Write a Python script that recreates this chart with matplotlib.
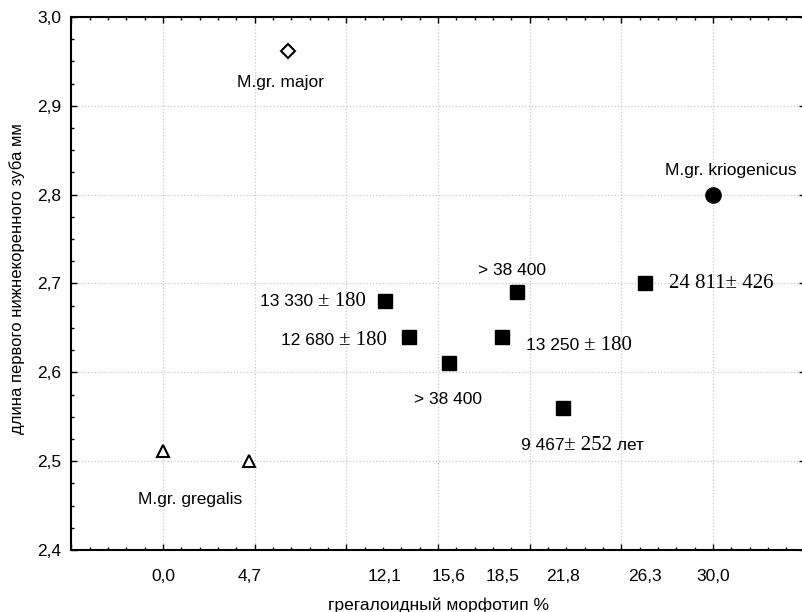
import matplotlib
matplotlib.use("Agg")
import matplotlib.pyplot as plt
from matplotlib.ticker import MultipleLocator, FuncFormatter

# DATA
major_x = [6.8]
major_y = [2.962]
gregalis_x = [0.0, 4.7]
gregalis_y = [2.511, 2.50]
krio_x = [30.0]
krio_y = [2.80]
dated_x = [12.1, 13.4, 15.6, 18.5, 19.3, 21.8, 26.3]
dated_y = [2.68, 2.64, 2.61, 2.64, 2.69, 2.56, 2.70]
xtick_vals = [0.0, 4.7, 12.1, 15.6, 18.5, 21.8, 26.3, 30.0]
xtick_labels = ["0,0", "4,7", "12,1", "15,6", "18,5", "21,8", "26,3", "30,0"]

SANS = "Liberation Sans"
SERIF = "Liberation Serif"
FS = 12.5      # sans text
FS_SERIF = 15  # serif "±" parts

# date labels: (point index, parts, offset in pixels of left edge)
date_labels = [
    (0, [("13 330 ", SANS), ("± 180", SERIF)], (-125, 0)),
    (1, [("12 680 ", SANS), ("± 180", SERIF)], (-128, -4)),
    (3, [("13 250 ", SANS), ("± 180", SERIF)], (24, -9)),
    (5, [("9 467", SANS), ("± 252", SERIF), (" лет", SANS)], (-42, -38)),
    (6, [("24 811± 426", SERIF)], (24, 0)),
]

fig = plt.figure(figsize=(8.03, 6.12), dpi=100)
W, H = 803, 612
ax = fig.add_axes([71.3 / W, 1 - 550 / H, (804.7 - 71.3) / W, (550 - 17) / H])
ax.set_xlim(-5, 35)
ax.set_ylim(2.4, 3.0)

ax.plot(major_x, major_y, linestyle="none", marker="D", markersize=7,
        markerfacecolor="white", markeredgecolor="black", markeredgewidth=1.5)
ax.plot(gregalis_x, gregalis_y, linestyle="none", marker="^", markersize=9,
        markerfacecolor="white", markeredgecolor="black", markeredgewidth=1.5)
ax.plot(krio_x, krio_y, linestyle="none", marker="o", markersize=11,
        color="black")
ax.plot(dated_x, dated_y, linestyle="none", marker="s", markersize=10,
        color="black")

# grid and ticks
ax.xaxis.set_major_locator(MultipleLocator(5))
ax.xaxis.set_minor_locator(MultipleLocator(1))
ax.yaxis.set_major_locator(MultipleLocator(0.1))
ax.yaxis.set_minor_locator(MultipleLocator(0.025))
ax.yaxis.set_major_formatter(FuncFormatter(lambda v, p: f"{v:.1f}".replace(".", ",")))
ax.grid(True, which="major", linestyle=":", color="#c8c8c8", linewidth=0.9)
ax.tick_params(axis="both", which="both", direction="in", top=True, right=True,
               width=1.0, color="black")
ax.tick_params(which="major", length=4)
ax.tick_params(which="minor", length=2.5)
ax.tick_params(axis="x", labelbottom=False)
ax.tick_params(axis="y", labelsize=FS, pad=7)
for lab in ax.get_yticklabels():
    lab.set_fontfamily(SANS)
for s in ax.spines.values():
    s.set_linewidth(1.5)

sec = ax.secondary_xaxis("bottom")
sec.set_xticks(xtick_vals, xtick_labels)
sec.tick_params(length=0, pad=14, labelsize=FS)
sec.spines["bottom"].set_visible(False)
for lab in sec.get_xticklabels():
    lab.set_fontfamily(SANS)

ax.set_xlabel("грегалоидный морфотип %", fontsize=FS, family=SANS, labelpad=31)
ax.set_ylabel("длина первого нижнекоренного зуба мм", fontsize=12, family=SANS,
              labelpad=9)
ax.yaxis.label.set_y(0.51)

# species labels
ax.annotate("M.gr. major", (major_x[0], major_y[0]), xytext=(-7, -32),
            textcoords="offset pixels", ha="center", va="center",
            fontsize=FS, family=SANS)
ax.annotate("M.gr. kriogenicus", (krio_x[0], krio_y[0]), xytext=(18, 24),
            textcoords="offset pixels", ha="center", va="center",
            fontsize=FS, family=SANS)
ax.annotate("M.gr. gregalis", (gregalis_x[0], gregalis_y[0]), xytext=(27, -48),
            textcoords="offset pixels", ha="center", va="center",
            fontsize=FS, family=SANS)
ax.annotate("> 38 400", (dated_x[4], dated_y[4]), xytext=(-5, 22),
            textcoords="offset pixels", ha="center", va="center",
            fontsize=FS, family=SANS)
ax.annotate("> 38 400", (dated_x[2], dated_y[2]), xytext=(-1, -36),
            textcoords="offset pixels", ha="center", va="center",
            fontsize=FS, family=SANS)

# date labels mixing sans numbers with serif "±"
for idx, parts, off in date_labels:
    prev = None
    for txt, fam in parts:
        size = FS_SERIF if fam == SERIF else FS
        if prev is None:
            prev = ax.annotate(txt, (dated_x[idx], dated_y[idx]), xytext=off,
                               textcoords="offset pixels", ha="left",
                               va="center", fontsize=size, family=fam)
        else:
            prev = ax.annotate(txt, (1, 0.5), xycoords=prev, ha="left",
                               va="center", fontsize=size, family=fam)

fig.savefig("out.png", dpi=100)
